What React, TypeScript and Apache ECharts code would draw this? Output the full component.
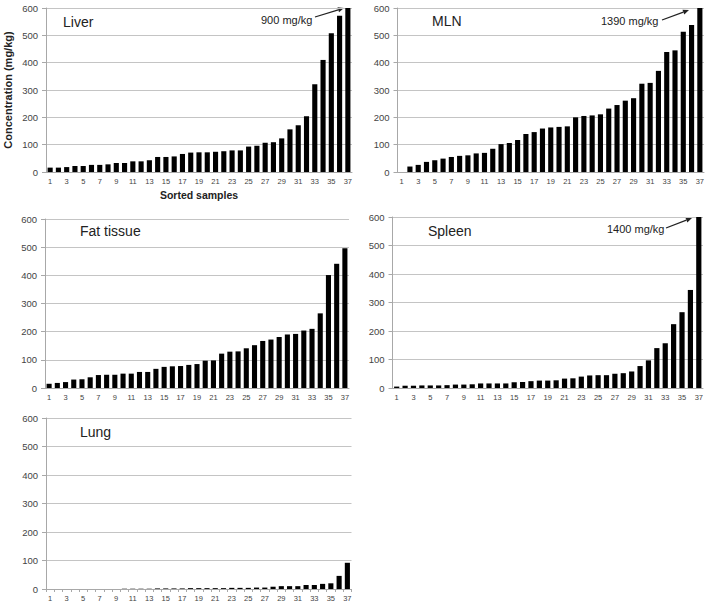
import React, { useEffect, useRef } from "react";
import * as echarts from "echarts";

const samples = ["1","2","3","4","5","6","7","8","9","10","11","12","13","14","15","16","17","18","19","20","21","22","23","24","25","26","27","28","29","30","31","32","33","34","35","36","37"];
const yTicks = { min: 0, max: 600, interval: 100 };

const liver = [16,16,18,22,22,26,26,28,33,33,39,39,43,55,55,57,66,71,72,72,74,76,79,79,93,96,107,109,123,156,171,204,321,410,508,572,900];
const mln = [0,20,26,37,43,49,55,59,61,68,70,85,102,106,117,139,146,159,163,165,167,200,205,207,211,232,245,261,270,323,326,370,439,445,513,538,1390];
const fat = [15,18,21,30,31,38,46,47,47,51,51,57,57,68,75,77,78,82,85,97,98,122,129,130,141,152,167,172,181,190,192,204,210,265,401,441,496];
const spleen = [5,8,8,9,9,9,10,12,12,13,16,16,16,16,20,21,24,26,26,27,33,34,40,44,45,45,50,52,58,77,97,140,157,224,266,344,1400];
const lung = [0,0,0,0,0,0,0,0,0,1,1,1,1,2,2,2,2,3,3,3,3,3,4,4,4,5,5,8,10,10,10,14,14,18,20,46,92];

const panelNames = ["Liver", "MLN", "Fat tissue", "Spleen", "Lung"];
const annotations = ["900 mg/kg", "1390 mg/kg", "1400 mg/kg"];

const FONT = "'Liberation Sans', Arial, sans-serif";

export default function App() {
  const ref = useRef<HTMLDivElement>(null);
  useEffect(() => {
    if (!ref.current) return;
    const chart = echarts.init(ref.current, undefined, { renderer: "svg" });
    const grids = [
      { left: 46, top: 8, width: 306, height: 164 },
      { left: 397.5, top: 8, width: 306.5, height: 164 },
      { left: 45, top: 219, width: 304, height: 169 },
      { left: 392.5, top: 217, width: 310.5, height: 171 },
      { left: 46, top: 418, width: 305.5, height: 171 },
    ];
    const data = [liver, mln, fat, spleen, lung];
    const gridColor = "#c4c4c4";
    const axisColor = "#a8a8a8";
    const labelColor = "#444";

    const xAxes = grids.map((_, i) => ({
      type: "category",
      gridIndex: i,
      data: samples,
      boundaryGap: true,
      axisLine: { show: true, lineStyle: { color: axisColor, width: 1 } },
      axisTick: i === 4
        ? { show: true, interval: 0, length: 3, lineStyle: { color: axisColor } }
        : { show: false },
      axisLabel: { interval: 1, fontSize: 7.5, color: labelColor, margin: 5, fontFamily: FONT },
      name: i === 0 ? "Sorted samples" : "",
      nameLocation: "middle",
      nameGap: 17,
      nameTextStyle: { fontSize: 10.5, fontWeight: "bold", color: "#222", fontFamily: FONT },
    }));
    const yAxes = grids.map((_, i) => ({
      type: "value",
      gridIndex: i,
      min: yTicks.min,
      max: yTicks.max,
      interval: yTicks.interval,
      axisLine: { show: true, lineStyle: { color: axisColor, width: 1 } },
      axisTick: { show: true, length: 4, lineStyle: { color: axisColor } },
      axisLabel: { fontSize: 9.5, color: labelColor, margin: 8, fontFamily: FONT },
      splitLine: { show: true, lineStyle: { color: gridColor, width: 1 } },
      name: i === 0 ? "Concentration (mg/kg)" : "",
      nameLocation: "middle",
      nameGap: 33,
      nameRotate: 90,
      nameTextStyle: { fontSize: 11, fontWeight: "bold", color: "#222", fontFamily: FONT },
    }));
    const series = data.map((d, i) => ({
      type: "bar",
      xAxisIndex: i,
      yAxisIndex: i,
      data: d,
      barCategoryGap: "38%",
      itemStyle: { color: "#000" },
      clip: true,
      silent: true,
    }));

    const titlePos = [
      [63, 22],
      [432, 21],
      [80, 231],
      [428, 231],
      [80, 432],
    ];
    const titleGraphics = panelNames.map((n, i) => ({
      type: "text",
      x: titlePos[i][0],
      y: titlePos[i][1],
      style: {
        text: n,
        fontSize: 14,
        fontFamily: FONT,
        fill: "#222",
        verticalAlign: "middle",
        align: "left",
      },
    }));

    const annot = [
      { tx: 261, ty: 20, x1: 315, y1: 17, x2: 344, y2: 8 },
      { tx: 601, ty: 21, x1: 662, y1: 20, x2: 689, y2: 10 },
      { tx: 607, ty: 229, x1: 666, y1: 228, x2: 692, y2: 218 },
    ];
    const annotGraphics: any[] = [];
    annot.forEach((a, i) => {
      annotGraphics.push({
        type: "text",
        x: a.tx,
        y: a.ty,
        style: { text: annotations[i], fontSize: 11, fontFamily: FONT, fill: "#222", verticalAlign: "middle" },
      });
      const ang = Math.atan2(a.y2 - a.y1, a.x2 - a.x1);
      const hl = 6, hw = 2.6;
      const bx = a.x2 - hl * Math.cos(ang);
      const by = a.y2 - hl * Math.sin(ang);
      annotGraphics.push({
        type: "line",
        shape: { x1: a.x1, y1: a.y1, x2: bx, y2: by },
        style: { stroke: "#222", lineWidth: 1.3 },
      });
      annotGraphics.push({
        type: "polygon",
        shape: {
          points: [
            [a.x2, a.y2],
            [bx - hw * Math.sin(ang), by + hw * Math.cos(ang)],
            [bx + hw * Math.sin(ang), by - hw * Math.cos(ang)],
          ],
        },
        style: { fill: "#222" },
      });
    });

    chart.setOption({
      animation: false,
      backgroundColor: "#fff",
      grid: grids,
      xAxis: xAxes,
      yAxis: yAxes,
      series,
      graphic: [...titleGraphics, ...annotGraphics],
    });
    return () => chart.dispose();
  }, []);
  return (
    <div
      ref={ref}
      style={{ position: "fixed", left: 0, top: 0, width: 709, height: 607, background: "#fff" }}
    />
  );
}
